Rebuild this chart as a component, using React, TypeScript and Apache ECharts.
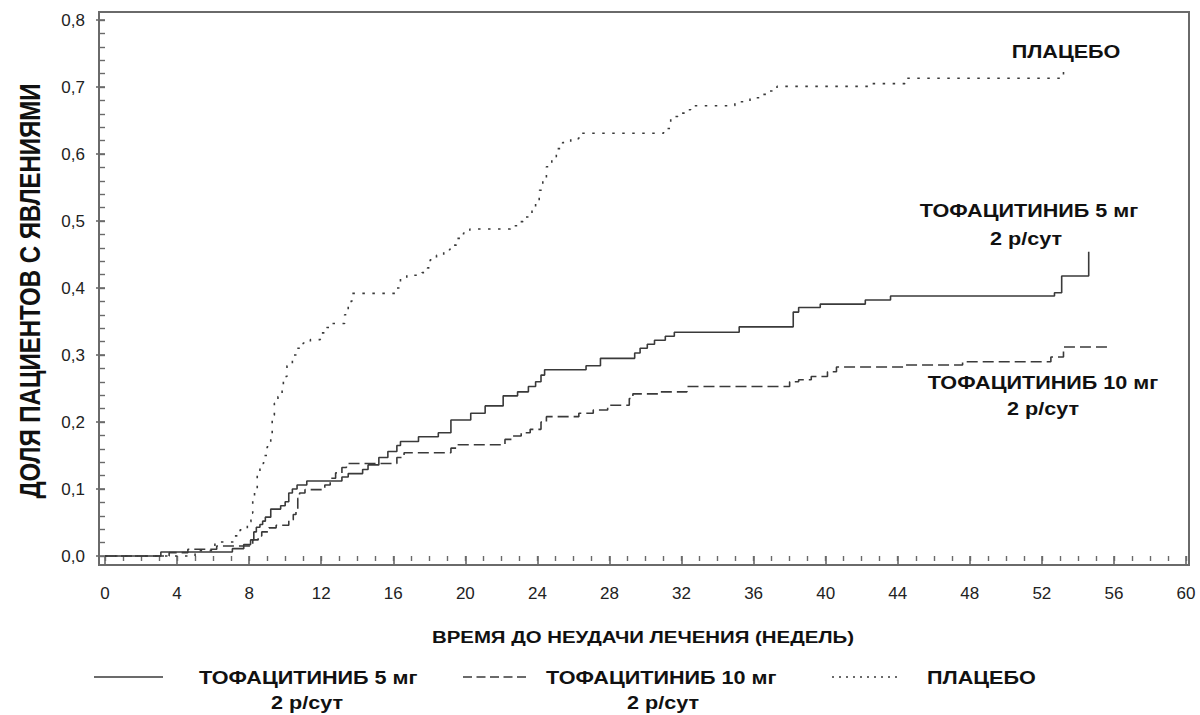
import React, { useEffect, useRef } from "react";
import * as echarts from "echarts";

// ---- Data (weeks, cumulative proportion with events) ----
const weeksTofa5 = [0, 3.1, 7.07, 7.7, 8.08, 8.26, 8.4, 8.6, 8.75, 8.9, 9.2, 9.75, 10.0, 10.2, 10.4, 10.66, 11.2, 13.15, 13.5, 14.3, 14.6, 15.2, 15.7, 16.2, 16.4, 17.4, 18.5, 19.2, 20.3, 21.1, 22.1, 22.9, 23.5, 23.9, 24.2, 24.4, 26.7, 27.5, 29.4, 29.7, 30.1, 30.5, 31.1, 31.6, 35.2, 38.2, 38.5, 39.7, 42.2, 43.6, 52.7, 53.1, 54.6];
const valsTofa5 = [0, 0.006, 0.011, 0.017, 0.024, 0.036, 0.043, 0.047, 0.052, 0.058, 0.07, 0.075, 0.081, 0.094, 0.1, 0.106, 0.112, 0.118, 0.123, 0.129, 0.136, 0.147, 0.156, 0.165, 0.171, 0.178, 0.184, 0.203, 0.213, 0.224, 0.239, 0.245, 0.253, 0.26, 0.27, 0.278, 0.284, 0.295, 0.303, 0.31, 0.316, 0.322, 0.328, 0.334, 0.342, 0.364, 0.371, 0.376, 0.382, 0.388, 0.393, 0.418, 0.454];

const weeksTofa10 = [0, 3.56, 4.6, 6.2, 8.2, 8.5, 8.7, 9.1, 9.5, 10.2, 10.45, 10.6, 10.7, 10.8, 11.1, 12.2, 12.5, 12.8, 13.15, 13.4, 16.2, 16.6, 19.2, 19.6, 22.2, 22.6, 23.1, 23.6, 24.2, 24.5, 26.3, 27.1, 27.9, 29.1, 29.3, 30.7, 32.3, 38.0, 38.5, 39.2, 40.1, 40.6, 44.4, 47.6, 52.5, 53.2, 55.7];
const valsTofa10 = [0, 0.005, 0.01, 0.015, 0.024, 0.03, 0.036, 0.042, 0.046, 0.054, 0.062, 0.069, 0.086, 0.094, 0.099, 0.106, 0.116, 0.124, 0.132, 0.138, 0.147, 0.154, 0.161, 0.166, 0.174, 0.179, 0.184, 0.189, 0.2, 0.208, 0.213, 0.218, 0.225, 0.235, 0.242, 0.245, 0.253, 0.26, 0.263, 0.268, 0.275, 0.282, 0.285, 0.29, 0.297, 0.312, 0.312];

const weeksPlacebo = [0, 5.0, 6.1, 7.2, 7.5, 7.9, 8.1, 8.2, 8.3, 8.45, 8.6, 8.8, 9.0, 9.2, 9.28, 9.4, 9.6, 9.83, 9.9, 10.1, 10.4, 10.66, 11.0, 11.4, 11.95, 12.3, 12.5, 13.3, 13.5, 13.7, 16.1, 16.4, 16.75, 17.6, 17.9, 18.05, 18.4, 18.8, 19.15, 19.5, 19.9, 20.25, 22.5, 22.9, 23.2, 23.7, 23.9, 24.1, 24.3, 24.5, 24.8, 25.05, 25.4, 25.85, 26.3, 31.0, 31.4, 31.8, 32.2, 32.5, 34.96, 35.8, 36.4, 36.8, 37.3, 42.6, 44.4, 53.0, 53.2];
const valsPlacebo = [0, 0.008, 0.021, 0.03, 0.039, 0.051, 0.064, 0.085, 0.1, 0.12, 0.138, 0.15, 0.163, 0.183, 0.21, 0.228, 0.238, 0.253, 0.268, 0.284, 0.3, 0.31, 0.318, 0.323, 0.333, 0.341, 0.347, 0.36, 0.38, 0.392, 0.4, 0.414, 0.419, 0.423, 0.43, 0.442, 0.449, 0.457, 0.464, 0.474, 0.482, 0.488, 0.493, 0.499, 0.506, 0.516, 0.526, 0.546, 0.564, 0.581, 0.596, 0.608, 0.617, 0.623, 0.631, 0.638, 0.656, 0.661, 0.666, 0.672, 0.678, 0.684, 0.689, 0.694, 0.701, 0.705, 0.713, 0.717, 0.725];

const xMajorTicks = [0, 4, 8, 12, 16, 20, 24, 28, 32, 36, 40, 44, 48, 52, 56, 60];
const xMinorTicks = Array.from({ length: 61 }, (_, i) => i);
const yMajorTicks = [0, 0.1, 0.2, 0.3, 0.4, 0.5, 0.6, 0.7, 0.8];
const yMinorTicks = Array.from({ length: 41 }, (_, i) => Math.round(i * 2) / 100);

const seriesNames = ["ТОФАЦИТИНИБ 5 мг", "ТОФАЦИТИНИБ 10 мг", "ПЛАЦЕБО"];
const doseLine = "2 р/сут";
const xTitle = "ВРЕМЯ ДО НЕУДАЧИ ЛЕЧЕНИЯ (НЕДЕЛЬ)";
const yTitle = "ДОЛЯ ПАЦИЕНТОВ С ЯВЛЕНИЯМИ";

const FONT = '"Liberation Sans", Arial, Helvetica, sans-serif';
const LINE_COLOR = "#3a3a3a";
const AXIS_COLOR = "#6a6a6a";
const SX = 1.2;

const dashedPattern = [11, 5];
const dottedPattern = [2.5, 7.5];

function zip(a: number[], b: number[]) {
  return a.map((v, i) => [v, b[i]]);
}

export default function App() {
  const ref = useRef<HTMLDivElement>(null);
  useEffect(() => {
    if (!ref.current) return;
    const chart = echarts.init(ref.current, null, { renderer: "svg" });

    const xMin = -6 / 18.017;
    const xMax = 60 + 3 / 18.017;
    const yMin = -9 / 670;
    const yMax = 0.8 + 8 / 670;

    const boldText = (text: string, x: number, y: number, size: number, align = "center") => ({
      type: "text",
      x,
      y,
      scaleX: SX,
      silent: true,
      style: {
        text,
        fontSize: size,
        fontWeight: "bold",
        fontFamily: FONT,
        fill: "#111",
        textAlign: align,
        textVerticalAlign: "middle",
        align,
        verticalAlign: "middle",
      },
    });

    const legendLine = (x1: number, x2: number, y: number, dash: number[] | null) => ({
      type: "line",
      silent: true,
      shape: { x1, y1: y, x2, y2: y },
      style: { stroke: LINE_COLOR, lineWidth: 1.6, lineDash: dash },
    });

    const option: any = {
      animation: false,
      backgroundColor: "#ffffff",
      grid: {
        left: 99,
        top: 12,
        width: 1090,
        height: 553,
        show: true,
        borderColor: AXIS_COLOR,
        borderWidth: 2,
        backgroundColor: "transparent",
      },
      xAxis: [
        {
          type: "value",
          min: xMin,
          max: xMax,
          axisLine: { show: false },
          splitLine: { show: false },
          axisTick: {
            show: true,
            customValues: xMajorTicks,
            length: 9,
            lineStyle: { color: AXIS_COLOR, width: 1.6 },
          },
          axisLabel: {
            customValues: xMajorTicks,
            margin: 20,
            fontSize: 17,
            fontFamily: FONT,
            color: "#222",
            formatter: (v: number) => String(Math.round(v)),
          },
        },
        {
          type: "value",
          min: xMin,
          max: xMax,
          position: "bottom",
          axisLine: { show: false },
          splitLine: { show: false },
          axisTick: {
            show: true,
            customValues: xMinorTicks,
            length: 5,
            lineStyle: { color: AXIS_COLOR, width: 1.4 },
          },
          axisLabel: { show: false },
        },
      ],
      yAxis: [
        {
          type: "value",
          min: yMin,
          max: yMax,
          axisLine: { show: false },
          splitLine: { show: false },
          axisTick: {
            show: true,
            customValues: yMajorTicks,
            length: 9,
            lineStyle: { color: AXIS_COLOR, width: 1.6 },
          },
          axisLabel: {
            customValues: yMajorTicks,
            margin: 14,
            fontSize: 17,
            fontFamily: FONT,
            color: "#222",
            formatter: (v: number) => v.toFixed(1).replace(".", ","),
          },
        },
        {
          type: "value",
          min: yMin,
          max: yMax,
          position: "left",
          axisLine: { show: false },
          splitLine: { show: false },
          axisTick: {
            show: true,
            customValues: yMinorTicks,
            length: 5,
            lineStyle: { color: AXIS_COLOR, width: 1.4 },
          },
          axisLabel: { show: false },
        },
      ],
      series: [
        {
          name: seriesNames[0],
          type: "line",
          step: "end",
          showSymbol: false,
          symbol: "none",
          data: zip(weeksTofa5, valsTofa5),
          lineStyle: { color: LINE_COLOR, width: 1.6, type: "solid" },
        },
        {
          name: seriesNames[1],
          type: "line",
          step: "end",
          showSymbol: false,
          symbol: "none",
          data: zip(weeksTofa10, valsTofa10),
          lineStyle: { color: LINE_COLOR, width: 1.6, type: dashedPattern },
        },
        {
          name: seriesNames[2],
          type: "line",
          step: "end",
          showSymbol: false,
          symbol: "none",
          data: zip(weeksPlacebo, valsPlacebo),
          lineStyle: { color: LINE_COLOR, width: 1.6, type: dottedPattern },
        },
      ],
      graphic: [
        // in-plot labels
        boldText(seriesNames[2], 1066, 52, 18),
        boldText(seriesNames[0], 1029, 211, 18),
        boldText(doseLine, 1026, 239, 18),
        boldText(seriesNames[1], 1043, 383, 18),
        boldText(doseLine, 1043, 409, 18),
        // axis titles
        boldText(xTitle, 643, 637, 17),
        {
          type: "text",
          x: 30,
          y: 291,
          rotation: Math.PI / 2,
          scaleY: SX,
          silent: true,
          style: {
            text: yTitle,
            fontSize: 24,
            fontWeight: "bold",
            fontFamily: FONT,
            fill: "#111",
            textAlign: "center",
            textVerticalAlign: "middle",
            align: "center",
            verticalAlign: "middle",
          },
        },
        // legend
        legendLine(94, 163, 677, null),
        boldText(seriesNames[0], 199, 678, 18, "left"),
        boldText(doseLine, 307, 703, 18),
        legendLine(463, 530, 677, [9, 4.5]),
        boldText(seriesNames[1], 546, 678, 18, "left"),
        boldText(doseLine, 663, 703, 18),
        legendLine(832, 900, 677, [2, 5]),
        boldText(seriesNames[2], 927, 678, 18, "left"),
      ],
    };

    chart.setOption(option);
    return () => chart.dispose();
  }, []);

  return (
    <div
      ref={ref}
      style={{ position: "absolute", left: 0, top: 0, width: 1200, height: 715, background: "#fff" }}
    />
  );
}
